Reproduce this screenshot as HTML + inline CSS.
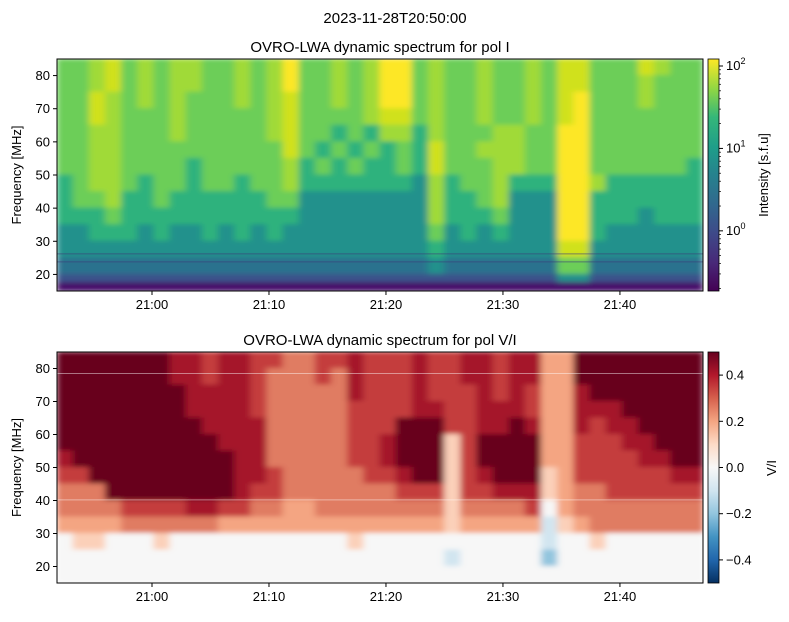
<!DOCTYPE html>
<html><head><meta charset="utf-8"><style>
body{margin:0;background:#fff}
svg text{font-family:"Liberation Sans","DejaVu Sans",sans-serif;fill:#000}
</style></head><body>
<svg id="s" width="789" height="617" viewBox="0 0 789 617" xmlns="http://www.w3.org/2000/svg">
<defs>
<filter id="bl" x="-5%" y="-5%" width="110%" height="110%"><feGaussianBlur stdDeviation="3.5 2.5"/></filter>
<clipPath id="c1"><rect x="57" y="59" width="646" height="232"/></clipPath>
<clipPath id="c2"><rect x="57" y="352" width="646" height="231"/></clipPath>
<linearGradient id="gv" x1="0" y1="1" x2="0" y2="0">
<stop offset="0" stop-color="#440154"/><stop offset="0.12" stop-color="#482878"/><stop offset="0.25" stop-color="#3e4a89"/><stop offset="0.37" stop-color="#31688e"/><stop offset="0.5" stop-color="#26828e"/><stop offset="0.62" stop-color="#1f9e89"/><stop offset="0.75" stop-color="#35b779"/><stop offset="0.87" stop-color="#8fd744"/><stop offset="1" stop-color="#fde725"/></linearGradient>
<linearGradient id="gr" x1="0" y1="1" x2="0" y2="0">
<stop offset="0" stop-color="#053061"/><stop offset="0.1" stop-color="#2166ac"/><stop offset="0.2" stop-color="#4393c3"/><stop offset="0.3" stop-color="#92c5de"/><stop offset="0.4" stop-color="#d1e5f0"/><stop offset="0.5" stop-color="#f7f7f7"/><stop offset="0.6" stop-color="#fddbc7"/><stop offset="0.7" stop-color="#f4a582"/><stop offset="0.8" stop-color="#d6604d"/><stop offset="0.9" stop-color="#b2182b"/><stop offset="1" stop-color="#67001f"/></linearGradient>
</defs>
<text x="395" y="23" font-size="15" text-anchor="middle">2023-11-28T20:50:00</text>
<text x="380" y="52" font-size="15" text-anchor="middle">OVRO-LWA dynamic spectrum for pol I</text>
<text x="380" y="345" font-size="15" text-anchor="middle">OVRO-LWA dynamic spectrum for pol V/I</text>
<g id="hm1" clip-path="url(#c1)"><g id="hm1i" filter="url(#bl)"></g></g>
<g id="hm2" clip-path="url(#c2)"><g id="hm2i" filter="url(#bl)"></g></g>
<g id="ax"></g>
</svg>
<script>
const freqEdges=[85,80,75,70,65,60,55,50,45,40,35,30,25,20,17.5,15];
const timeStartMin=-8.12, timeEndMin=47.1, nCols=40;
const xTickMinutes=[0,10,20,30,40];
const xTickLabels=["21:00","21:10","21:20","21:30","21:40"];
const yTicks=[20,30,40,50,60,70,80];
const intensityRows=[
"6678676776"+"6767966767"+"9967667667"+"6886668766",
"6678676776"+"6767966767"+"9967667667"+"6886667666",
"6687676766"+"6767866767"+"9967667667"+"6896667666",
"6687666766"+"6667866667"+"8867667667"+"6896666666",
"6677666766"+"6667866565"+"7757666776"+"6996666666",
"6677666666"+"6666865656"+"5658667776"+"6996666666",
"6677666656"+"6666756565"+"5658666776"+"6996666665",
"5677656656"+"6566755555"+"5547566755"+"5997555555",
"5667556555"+"5556644444"+"4447556744"+"4995555555",
"5556555555"+"5555544444"+"4447555644"+"4995554555",
"4455545445"+"4545444444"+"4446454544"+"4995444444",
"4444444444"+"4444444444"+"4445444444"+"4884444444",
"3333333333"+"3333333333"+"3334333333"+"3663333333",
"2222222222"+"2222222222"+"2222222222"+"2442222222",
"0000000000"+"0000000000"+"0000000000"+"0000000000"];
const viRows=[
"9999999887"+"8877667787"+"7787788788"+"5599999999",
"9999999887"+"8876667687"+"7787788788"+"5599999999",
"9999999988"+"8876666687"+"7787778787"+"5589999999",
"9999999988"+"8876666677"+"7788778887"+"5588899999",
"9999999998"+"8886666677"+"7999778898"+"5587889999",
"9999999999"+"8886666677"+"8999479999"+"5577788999",
"8999999999"+"9886666677"+"8999479999"+"5577778899",
"7799999999"+"9887666667"+"7899478999"+"4577777788",
"6669999999"+"9877666666"+"6777477888"+"4566777777",
"6666777788"+"7766556666"+"6666466667"+"3566666666",
"5555666666"+"5555555555"+"5555455555"+"2456666666",
"3443334333"+"3333333343"+"3333333333"+"2334333333",
"3333333333"+"3333333333"+"3333233333"+"1333333333",
"3333333333"+"3333333333"+"3333333333"+"3333333333",
"3333333333"+"3333333333"+"3333333333"+"3333333333"];
const viridisLevels=["#46106a","#433e85","#3b528b","#2c728e","#21918c","#2db27d","#6cce59","#a0da39","#d0e11c","#fde725"];
const rdbuLevels=["#2166ac","#92c5de","#d1e5f0","#f7f7f7","#fbd0b9","#f4a582","#e07b62","#c43c3c","#a51429","#67001f"];
const NS="http://www.w3.org/2000/svg";
const X0=57,X1=703;
function xs(t){return X0+(t-timeStartMin)/(timeEndMin-timeStartMin)*(X1-X0);}
function ysTop(f){return 59+(85-f)/70*232;}
function ysBot(f){return 352+(85-f)/70*231;}
function mk(tag,attrs,parent){const e=document.createElementNS(NS,tag);for(const k in attrs)e.setAttribute(k,attrs[k]);parent.appendChild(e);return e;}
function drawHeat(g,rows,pal,ys){
  const dt=(timeEndMin-timeStartMin)/nCols;
  rows.forEach((row,ri)=>{
    for(let ci=0;ci<nCols;ci++){
      const ch=row[Math.min(ci,row.length-1)];
      const t0=timeStartMin+ci*dt, t1=t0+dt;
      const y0=ys(freqEdges[ri]), y1=ys(freqEdges[ri+1]);
      const r=mk('rect',{x:xs(t0)-0.5,y:y0-0.5,width:xs(t1)-xs(t0)+1,height:y1-y0+1,fill:pal[+ch]},g);
      
      
    }
  });
}
drawHeat(document.getElementById('hm1i'),intensityRows,viridisLevels,ysTop);
drawHeat(document.getElementById('hm2i'),viRows,rdbuLevels,ysBot);
const ax=document.getElementById('ax');
[78.5,40.2].forEach(f=>{const l=mk('line',{x1:X0,x2:X1,y1:ysBot(f),y2:ysBot(f),stroke:'rgba(255,255,255,0.45)','stroke-width':1},ax);});
[26.2,23.8].forEach(f=>{const l=mk('line',{x1:X0,x2:X1,y1:ysTop(f),y2:ysTop(f),stroke:'rgba(60,60,120,0.6)','stroke-width':1},ax);});
[[59,291,ysTop,'top'],[352,583,ysBot,'bottom']].forEach(([yt,yb,ys,nm])=>{
  const fr=mk('rect',{x:X0,y:yt,width:X1-X0,height:yb-yt,fill:'none',stroke:'#000','stroke-width':1},ax);
  
  xTickMinutes.forEach((m,i)=>{const x=xs(m);
    mk('line',{x1:x,x2:x,y1:yb,y2:yb+4,stroke:'#000'},ax);
    const t=mk('text',{x:x,y:yb+18,'font-size':13,'text-anchor':'middle'},ax);t.textContent=xTickLabels[i];
    });
  yTicks.forEach(f=>{const y=ys(f);
    mk('line',{x1:X0-4,x2:X0,y1:y,y2:y,stroke:'#000'},ax);
    const t=mk('text',{x:X0-7,y:y+4.5,'font-size':13,'text-anchor':'end'},ax);t.textContent=f;
    });
  const yl=mk('text',{x:0,y:0,'font-size':13,'text-anchor':'middle',transform:`translate(21,${(yt+yb)/2}) rotate(-90)`},ax);
  yl.textContent='Frequency [MHz]';
});
const cb1=mk('rect',{x:708,y:59,width:11,height:232,fill:'url(#gv)',stroke:'#000','stroke-width':0.8},ax);

const cb2=mk('rect',{x:708,y:352,width:11,height:231,fill:'url(#gr)',stroke:'#000','stroke-width':0.8},ax);

const cbLogTicks=[0,1,2];
function cbY1(lg){return 59+(2.085-lg)/(2.085+0.73)*232;}
cbLogTicks.forEach(p=>{const y=cbY1(p);
  mk('line',{x1:719,x2:723,y1:y,y2:y,stroke:'#000'},ax);
  const t=mk('text',{x:726,y:y+4,'font-size':13},ax);t.innerHTML='10<tspan dy="-6" font-size="9">'+p+'</tspan>';
  
});
for(let p=-1;p<=2;p++)for(let k=2;k<10;k++){const lg=p+Math.log10(k);if(lg>2.085||lg<-0.73)continue;const y=cbY1(lg);mk('line',{x1:719,x2:721,y1:y,y2:y,stroke:'#000','stroke-width':0.7},ax);}
const l1=mk('text',{x:0,y:0,'font-size':13,'text-anchor':'middle',transform:'translate(768,175) rotate(-90)'},ax);
l1.textContent='Intensity [s.f.u]';
const viTicks=[0.4,0.2,0.0,-0.2,-0.4];
viTicks.forEach(v=>{const y=352+(0.5-v)/1.0*231;
  mk('line',{x1:719,x2:723,y1:y,y2:y,stroke:'#000'},ax);
  const t=mk('text',{x:726,y:y+4.5,'font-size':13},ax);t.textContent=(v<0?'\u22120.':'0.')+Math.abs(v).toFixed(1).split('.')[1];
  });
const l2=mk('text',{x:0,y:0,'font-size':13,'text-anchor':'middle',transform:'translate(776,468) rotate(-90)'},ax);
l2.textContent='V/I';
</script>
</body></html>
